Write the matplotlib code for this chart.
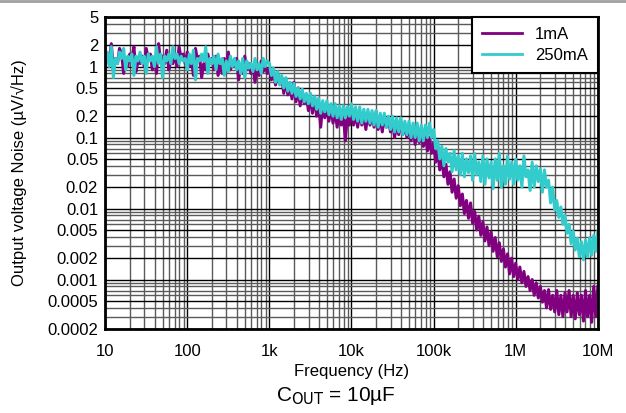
import matplotlib
matplotlib.use('Agg')
import matplotlib.pyplot as plt
import numpy as np
from matplotlib.lines import Line2D

plt.rcParams['font.family'] = ['Liberation Sans', 'DejaVu Sans']

# frequency grid: 40 points per decade, 10 Hz .. 10 MHz
freq = 10 ** (1 + 0.025 * np.arange(241))

# noise (uV/sqrtHz), two rows per decade
noise_1mA = [
    1.0, 1.5, 1.2, 2.1, 0.9, 1.3, 1.1, 1.8, 1.5, 0.8, 1.2, 1.0, 1.5, 1.3, 1.9, 0.85, 1.2, 1.1, 1.4, 1.0,
    1.8, 1.3, 1.5, 0.9, 1.3, 0.8, 2.1, 1.2, 1.4, 1.1, 1.7, 0.9, 1.2, 1.1, 1.5, 1.0, 1.9, 1.3, 1.5, 1.1,
    1.6, 1.0, 1.3, 0.75, 1.8, 1.2, 1.4, 0.7, 1.1, 0.9, 1.5, 1.1, 1.3, 0.9, 1.4, 0.75, 1.1, 0.8, 1.3, 1.0,
    1.6, 0.9, 1.1, 1.0, 1.3, 0.65, 1.0, 0.8, 1.4, 0.9, 1.1, 0.8, 1.0, 0.6, 1.0, 0.75, 1.2, 0.85, 1.0, 0.8,
    0.95, 0.65, 0.85, 0.55, 0.8, 0.6, 0.7, 0.42, 0.65, 0.4, 0.55, 0.35, 0.6, 0.32, 0.5, 0.28, 0.45, 0.3, 0.4, 0.24,
    0.35, 0.22, 0.38, 0.2, 0.3, 0.14, 0.3, 0.19, 0.28, 0.17, 0.27, 0.16, 0.25, 0.14, 0.24, 0.15, 0.22, 0.09, 0.21, 0.15,
    0.24, 0.15, 0.22, 0.14, 0.23, 0.15, 0.2, 0.13, 0.22, 0.15, 0.2, 0.14, 0.23, 0.13, 0.19, 0.12, 0.2, 0.14, 0.18, 0.12,
    0.17, 0.1, 0.16, 0.11, 0.17, 0.11, 0.15, 0.1, 0.15, 0.09, 0.14, 0.08, 0.13, 0.085, 0.12, 0.075, 0.11, 0.065, 0.1, 0.06,
    0.085, 0.045, 0.065, 0.035, 0.052, 0.028, 0.042, 0.022, 0.033, 0.017, 0.026, 0.014, 0.021, 0.011, 0.016, 0.0085,
    0.013, 0.0073, 0.012, 0.0062,
    0.0091, 0.005, 0.0078, 0.0042, 0.0065, 0.0035, 0.0055, 0.003, 0.0047, 0.0025, 0.0039, 0.0021, 0.0033, 0.0018,
    0.0027, 0.0015, 0.0023, 0.0012, 0.002, 0.0011,
    0.0017, 0.001, 0.0015, 0.0009, 0.0013, 0.0008, 0.0011, 0.0007, 0.001, 0.0006, 0.0009, 0.00055, 0.0008, 0.00048,
    0.0007, 0.0004, 0.00072, 0.00038, 0.0006, 0.00035,
    0.0007, 0.00032, 0.0006, 0.0003, 0.00065, 0.00035, 0.0007, 0.0003, 0.0006, 0.00028, 0.00065, 0.00032, 0.0006,
    0.00026, 0.0007, 0.0003, 0.0006, 0.00025, 0.0008, 0.0003, 0.0008,
]
noise_250mA = [
    1.3, 1.6, 1.0, 1.9, 0.7, 1.3, 1.1, 1.6, 1.3, 1.8, 0.9, 1.4, 1.2, 1.5, 0.75, 1.4, 1.2, 1.6, 1.1, 1.4,
    0.8, 1.5, 1.2, 1.4, 1.0, 1.9, 1.1, 1.5, 0.7, 1.4, 1.2, 1.5, 1.1, 1.9, 1.3, 1.5, 1.1, 1.4, 1.2, 1.3,
    0.9, 1.5, 1.1, 1.7, 0.65, 1.3, 1.2, 1.5, 1.2, 1.9, 0.8, 1.3, 1.1, 1.4, 0.9, 1.5, 1.1, 1.3, 0.75, 1.2,
    0.85, 1.4, 1.0, 1.3, 0.9, 1.2, 0.8, 1.3, 0.7, 1.2, 0.95, 1.1, 0.85, 1.3, 0.9, 1.1, 0.8, 1.3, 1.0, 1.2,
    1.1, 0.75, 0.95, 0.6, 0.85, 0.55, 0.75, 0.5, 0.7, 0.45, 0.6, 0.42, 0.58, 0.38, 0.5, 0.35, 0.48, 0.32, 0.42, 0.3,
    0.42, 0.28, 0.38, 0.25, 0.36, 0.22, 0.33, 0.23, 0.33, 0.21, 0.3, 0.2, 0.3, 0.19, 0.28, 0.18, 0.28, 0.19, 0.27, 0.2,
    0.3, 0.18, 0.27, 0.17, 0.27, 0.16, 0.25, 0.17, 0.25, 0.16, 0.24, 0.15, 0.24, 0.14, 0.22, 0.15, 0.22, 0.14, 0.2, 0.13,
    0.2, 0.12, 0.19, 0.12, 0.19, 0.11, 0.17, 0.11, 0.17, 0.1, 0.16, 0.1, 0.16, 0.09, 0.15, 0.09, 0.15, 0.1, 0.16, 0.1,
    0.13, 0.07, 0.09, 0.05, 0.075, 0.04, 0.07, 0.045, 0.06, 0.033, 0.065, 0.035, 0.055, 0.03, 0.06, 0.028,
    0.05, 0.032, 0.055, 0.025,
    0.06, 0.03, 0.045, 0.024, 0.055, 0.022, 0.05, 0.027, 0.045, 0.019, 0.05, 0.025, 0.06, 0.02, 0.04, 0.022,
    0.055, 0.026, 0.045, 0.022,
    0.05, 0.025, 0.04, 0.02, 0.055, 0.028, 0.035, 0.018, 0.045, 0.02, 0.04, 0.024, 0.036, 0.017, 0.035, 0.02,
    0.025, 0.012, 0.02, 0.0095,
    0.013, 0.0075, 0.0105, 0.006, 0.008, 0.0045, 0.006, 0.0032, 0.0048, 0.0026, 0.0038, 0.0021, 0.0034, 0.0019,
    0.0036, 0.0021, 0.0039, 0.0022, 0.0042, 0.0025, 0.0048,
]

yticks = [0.0002, 0.0005, 0.001, 0.002, 0.005, 0.01, 0.02, 0.05, 0.1, 0.2, 0.5, 1, 2, 5]
ytick_labels = ['0.0002', '0.0005', '0.001', '0.002', '0.005', '0.01', '0.02', '0.05',
                '0.1', '0.2', '0.5', '1', '2', '5']
xticks = [10, 100, 1e3, 1e4, 1e5, 1e6, 1e7]
xtick_labels = ['10', '100', '1k', '10k', '100k', '1M', '10M']

fig = plt.figure(figsize=(6.26, 4.13), dpi=100)
ax = fig.add_axes([0.168, 0.203, 0.787, 0.756])

ax.set_xscale('log')
ax.set_yscale('log')
ax.set_xlim(10, 1e7)
ax.set_ylim(0.0002, 5)

# grid: decade lines black, the rest grey
ax.grid(True, which='major', color='black', lw=1.0)
ax.grid(True, which='minor', color='#5a5a5a', lw=1.0)
ax.set_axisbelow(True)

ax.plot(freq, noise_1mA, color='#800080', lw=2.2, label='1mA')
ax.plot(freq, noise_250mA, color='#33CCCC', lw=2.2, label='250mA')

ax.set_xticks(xticks)
ax.set_xticklabels(xtick_labels)
ax.set_yticks(yticks)
ax.set_yticklabels(ytick_labels)
ax.yaxis.set_minor_locator(matplotlib.ticker.LogLocator(base=10, subs=np.arange(2, 10)))
ax.yaxis.set_minor_formatter(matplotlib.ticker.NullFormatter())
ax.tick_params(which='both', length=0, labelsize=12)
ax.tick_params(axis='x', pad=11)
ax.tick_params(axis='y', pad=5)

for s in ax.spines.values():
    s.set_linewidth(2)

ax.set_xlabel('Frequency (Hz)', fontsize=12, labelpad=3)
ax.set_ylabel('Output voltage Noise (µV/√Hz)', fontsize=12, labelpad=15)

leg = ax.legend(loc='upper right', fontsize=12, fancybox=False, framealpha=1,
                edgecolor='black', borderaxespad=0, handlelength=2.4, labelspacing=0.35,
                borderpad=0.6)
leg.get_frame().set_linewidth(1.5)
for h in leg.get_lines():
    h.set_linewidth(2)

fig.text(0.537, 0.040, r'C$_{\mathrm{OUT}}$ = 10µF', fontsize=15, ha='center', va='center')
fig.add_artist(Line2D([0, 1], [0.997, 0.997], color='#a0a0a0', lw=2, transform=fig.transFigure))

fig.savefig('out.png', dpi=100)
